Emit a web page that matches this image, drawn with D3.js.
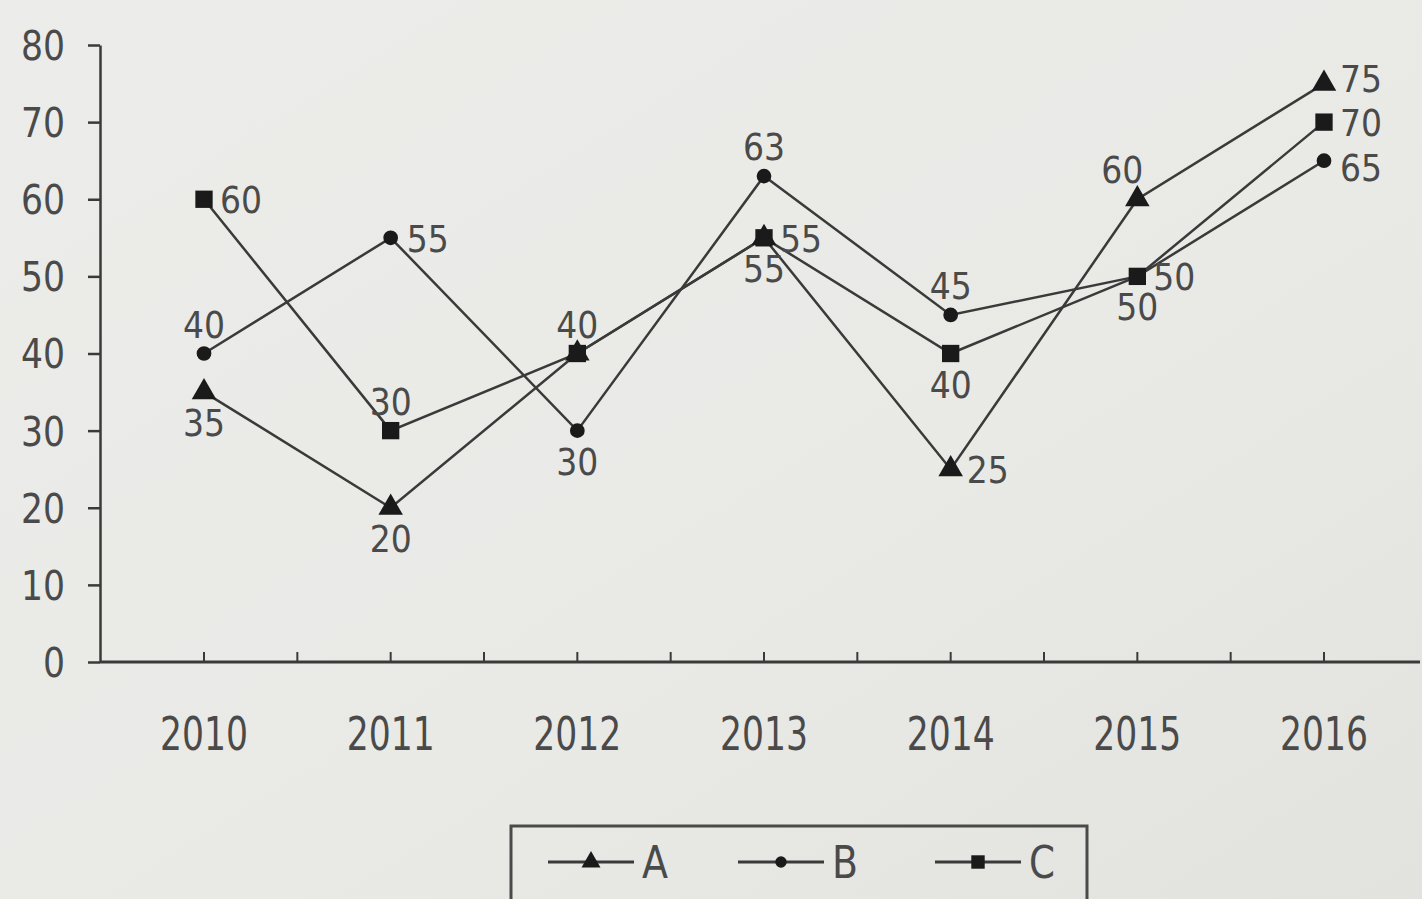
<!DOCTYPE html>
<html>
<head>
<meta charset="utf-8">
<script src="https://cdn.jsdelivr.net/npm/d3@7"></script>
<style>
  body { margin: 0; background: #e8e8e4; }
  svg { display: block; }
  text { font-family: "Liberation Sans Narrow", "DejaVu Sans Condensed", sans-serif; fill: #4a4a4a; }
</style>
</head>
<body>
<script>
const years = ["2010", "2011", "2012", "2013", "2014", "2015", "2016"];
const seriesNames = ["A", "B", "C"];
const valuesA = [35, 20, 40, 55, 25, 60, 75];
const valuesB = [40, 55, 30, 63, 45, 50, 65];
const valuesC = [60, 30, 40, 55, 40, 50, 70];
const yTicks = [0, 10, 20, 30, 40, 50, 60, 70, 80];

// where each value label sits relative to its point
const placeA = ["below", "below", "none", "below", "right", "leftup", "rightup"];
const placeB = ["above", "right", "below", "above", "above", "below", "rightdown"];
const placeC = ["right", "above", "above", "right", "below", "right", "right"];

const width = 1422, height = 899;
const svg = d3.select("body").append("svg")
  .attr("width", width)
  .attr("height", height);

// squeeze text to the narrow look of the original
function narrow(sel, perChar) {
  sel.each(function() {
    let n = this.textContent.length;
    d3.select(this).attr("textLength", n * perChar).attr("lengthAdjust", "spacingAndGlyphs");
  });
}

let defs = svg.append("defs");
let grad = defs.append("linearGradient").attr("id", "bg")
  .attr("x1", 0).attr("y1", 0).attr("x2", 1).attr("y2", 1);
grad.append("stop").attr("offset", "0%").attr("stop-color", "#ececea");
grad.append("stop").attr("offset", "60%").attr("stop-color", "#e9e9e6");
grad.append("stop").attr("offset", "100%").attr("stop-color", "#e2e2de");
svg.append("rect").attr("width", width).attr("height", height).attr("fill", "url(#bg)");

const x = d3.scaleLinear().domain([0, years.length - 1]).range([204, 1324]);
const y = d3.scaleLinear().domain([0, 80]).range([662, 45]);
const ink = "#3a3a3a";

// y axis
const yAxis = d3.axisLeft(y).tickValues(yTicks).tickSize(12).tickPadding(10).tickSizeOuter(0);
let gy = svg.append("g").attr("transform", "translate(100,0)").call(yAxis);
gy.select(".domain").attr("stroke", ink).attr("stroke-width", 2.5);
gy.selectAll(".tick line").attr("stroke", ink).attr("stroke-width", 2.5);
gy.selectAll(".tick text").style("font-size", "40px").attr("fill", "#4a4a4a")
  .attr("x", -35).attr("dy", "0.36em").call(narrow, 22);

// x axis: long baseline with upward ticks at each year and halfway between
svg.append("line")
  .attr("x1", 100).attr("x2", 1420)
  .attr("y1", y(0)).attr("y2", y(0))
  .attr("stroke", ink).attr("stroke-width", 3);
svg.selectAll(".xtick")
  .data(d3.range(0, years.length - 0.5, 0.5))
  .enter().append("line")
  .attr("class", "xtick")
  .attr("x1", d => x(d)).attr("x2", d => x(d))
  .attr("y1", y(0)).attr("y2", y(0) - 10)
  .attr("stroke", ink).attr("stroke-width", 2);
svg.selectAll(".xlabel")
  .data(years)
  .enter().append("text")
  .attr("class", "xlabel")
  .attr("x", (d, i) => x(i))
  .attr("y", 750)
  .attr("text-anchor", "middle")
  .style("font-size", "46px")
  .text(d => d)
  .call(narrow, 22);

// lines
const line = d3.line().x((d, i) => x(i)).y(d => y(d));
const series = [
  { name: "A", values: valuesA, place: placeA, shape: d3.symbolTriangle, size: 260 },
  { name: "B", values: valuesB, place: placeB, shape: d3.symbolCircle, size: 170 },
  { name: "C", values: valuesC, place: placeC, shape: d3.symbolSquare, size: 300 }
];

series.forEach(function(s) {
  svg.append("path")
    .datum(s.values)
    .attr("d", line)
    .attr("fill", "none")
    .attr("stroke", ink)
    .attr("stroke-width", 2.5);
});

series.forEach(function(s) {
  svg.selectAll(".pt" + s.name)
    .data(s.values)
    .enter().append("path")
    .attr("class", "pt" + s.name)
    .attr("transform", (d, i) => "translate(" + x(i) + "," + y(d) + ")")
    .attr("d", d3.symbol().type(s.shape).size(s.size))
    .attr("fill", "#1a1a1a");

  svg.selectAll(".lb" + s.name)
    .data(s.values.map((v, i) => ({ v: v, i: i, p: s.place[i] })).filter(d => d.p !== "none"))
    .enter().append("text")
    .attr("class", "lb" + s.name)
    .style("font-size", "38px")
    .attr("x", function(d) {
      if (d.p.startsWith("right")) return x(d.i) + 16;
      if (d.p === "leftup") return x(d.i) + 6;
      return x(d.i);
    })
    .attr("y", function(d) {
      if (d.p === "above") return y(d.v) - 16;
      if (d.p === "below") return y(d.v) + 44;
      if (d.p === "leftup") return y(d.v) - 16;
      if (d.p === "rightup") return y(d.v) + 8;
      if (d.p === "rightdown") return y(d.v) + 20;
      return y(d.v) + 14;
    })
    .attr("text-anchor", function(d) {
      if (d.p.startsWith("right")) return "start";
      if (d.p === "leftup") return "end";
      return "middle";
    })
    .text(d => d.v)
    .call(narrow, 21);
});

// legend
let legend = svg.append("g");
legend.append("rect")
  .attr("x", 511).attr("y", 826).attr("width", 576).attr("height", 90)
  .attr("fill", "none").attr("stroke", "#4a4a4a").attr("stroke-width", 3);
const legendX = [548, 738, 935];
series.forEach(function(s, i) {
  let g = legend.append("g").attr("transform", "translate(" + legendX[i] + ",862)");
  g.append("line").attr("x1", 0).attr("x2", 86).attr("y1", 0).attr("y2", 0)
    .attr("stroke", ink).attr("stroke-width", 3);
  g.append("path").attr("transform", "translate(43,0)")
    .attr("d", d3.symbol().type(s.shape).size(s.size * 0.6))
    .attr("fill", "#1a1a1a");
  g.append("text").attr("x", 94).attr("y", 16)
    .style("font-size", "44px").text(seriesNames[i])
    .call(narrow, 26);
});
</script>
</body>
</html>
